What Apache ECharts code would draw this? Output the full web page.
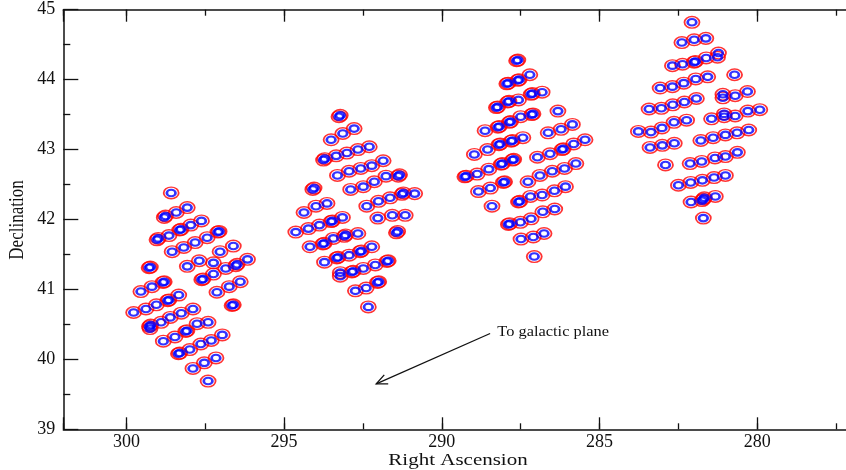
<!DOCTYPE html>
<html>
<head>
<meta charset="utf-8">
<script src="https://cdn.jsdelivr.net/npm/echarts@6/dist/echarts.min.js"></script>
<style>
  html, body { margin: 0; padding: 0; background: #fff; }
  #chart { width: 846px; height: 470px; }
</style>
</head>
<body>
<div id="chart"></div>
<script>
// Pointing centres [RA, Dec] in degrees, one list per survey field.
// Repeated pointings appear as near-duplicate entries.
const field1 = [
  [298.58,42.38],
  [298.80,42.03],[298.76,42.05],
  [298.42,42.10],
  [298.07,42.17],
  [299.03,41.71],[298.99,41.73],
  [298.65,41.77],
  [298.31,41.85],[298.27,41.86],
  [297.96,41.92],
  [297.62,41.98],
  [298.55,41.54],
  [298.18,41.60],
  [297.82,41.67],
  [297.44,41.74],
  [297.10,41.82],[297.06,41.83],
  [298.07,41.33],
  [297.69,41.41],
  [297.24,41.38],
  [297.03,41.54],
  [296.61,41.62],
  [296.85,41.30],
  [296.53,41.34],[296.49,41.36],
  [296.16,41.43],
  [297.61,41.14],[297.57,41.15],
  [297.24,41.22],
  [297.13,40.96],
  [296.74,41.04],
  [296.39,41.11],
  [296.65,40.77],[296.61,40.78],
  [299.28,41.31],[299.24,41.32],
  [299.54,40.97],
  [299.19,41.04],
  [298.84,41.10],[298.80,41.11],
  [299.77,40.67],
  [299.38,40.72],
  [299.05,40.78],
  [298.69,40.84],[298.65,40.85],
  [298.34,40.92],
  [299.27,40.47],[299.23,40.49],[299.25,40.44],
  [298.90,40.53],
  [298.61,40.60],
  [298.26,40.66],
  [297.89,40.72],
  [298.83,40.26],
  [298.46,40.32],
  [298.12,40.40],[298.08,40.41],
  [297.76,40.51],
  [297.41,40.53],
  [298.35,40.08],[298.31,40.09],
  [297.99,40.14],
  [297.64,40.22],
  [297.31,40.27],
  [296.96,40.35],
  [297.89,39.87],
  [297.53,39.95],
  [297.16,40.02],
  [297.41,39.69]
];

const field2 = [
  [293.26,43.47],[293.22,43.49],
  [293.14,43.23],
  [292.78,43.30],
  [293.51,43.14],
  [293.75,42.85],[293.71,42.87],
  [293.35,42.91],
  [293.01,42.95],
  [292.66,43.00],
  [292.30,43.04],
  [293.31,42.63],
  [292.94,42.69],
  [292.57,42.73],
  [292.22,42.77],
  [291.86,42.84],
  [292.89,42.43],
  [292.49,42.47],
  [292.14,42.54],
  [291.77,42.62],
  [291.38,42.62],[291.34,42.64],
  [292.38,42.19],
  [292.01,42.26],
  [291.64,42.31],
  [291.26,42.36],[291.22,42.38],
  [290.86,42.37],
  [292.03,42.02],
  [291.57,42.06],
  [291.16,42.06],
  [291.44,41.81],[291.40,41.83],
  [294.09,42.43],[294.05,42.45],
  [294.37,42.10],
  [293.99,42.19],
  [293.64,42.23],
  [294.63,41.82],
  [294.23,41.87],
  [293.88,41.92],
  [293.51,41.97],[293.47,41.98],
  [293.15,42.03],
  [294.18,41.61],
  [293.77,41.65],[293.73,41.66],
  [293.44,41.73],
  [293.09,41.76],[293.05,41.78],
  [292.66,41.80],
  [293.72,41.39],
  [293.33,41.45],[293.29,41.46],
  [292.94,41.49],
  [292.59,41.54],[292.55,41.55],
  [292.22,41.61],
  [293.22,41.19],[293.22,41.24],
  [292.85,41.25],[292.81,41.26],
  [292.49,41.30],
  [292.11,41.35],
  [291.74,41.40],[291.70,41.41],
  [292.74,40.98],
  [292.40,41.02],
  [292.04,41.10],[292.00,41.11],
  [292.33,40.75]
];

const field3 = [
  [287.63,44.27],[287.59,44.28],
  [287.94,43.94],[287.90,43.95],
  [287.59,43.99],[287.55,44.00],
  [287.21,44.07],
  [288.27,43.60],[288.23,43.61],
  [287.91,43.68],[287.87,43.69],
  [287.57,43.71],
  [287.17,43.79],[287.13,43.80],
  [286.82,43.82],
  [288.63,43.27],
  [288.22,43.32],[288.18,43.33],
  [287.86,43.39],[287.82,43.40],
  [287.50,43.47],
  [287.15,43.50],[287.11,43.51],
  [288.97,42.93],
  [288.55,43.00],
  [288.19,43.07],[288.15,43.08],
  [287.80,43.12],[287.76,43.13],
  [287.43,43.17],
  [289.27,42.61],[289.23,42.62],
  [288.88,42.65],
  [288.51,42.72],
  [288.12,42.79],[288.08,42.80],
  [287.76,42.85],[287.72,42.86],
  [288.84,42.40],
  [288.46,42.45],
  [288.05,42.53],[288.01,42.54],
  [288.41,42.19],
  [286.32,43.55],
  [286.63,43.24],
  [286.22,43.29],
  [285.86,43.36],
  [286.97,42.89],
  [286.57,42.94],
  [286.19,43.00],[286.15,43.01],
  [285.82,43.08],
  [285.46,43.14],
  [287.27,42.54],
  [286.89,42.63],
  [286.50,42.69],
  [286.11,42.73],
  [285.75,42.80],
  [287.57,42.25],[287.53,42.26],
  [287.19,42.33],
  [286.82,42.35],
  [286.43,42.41],
  [286.08,42.47],
  [287.89,41.93],[287.85,41.94],
  [287.51,41.96],
  [287.17,42.01],
  [286.80,42.11],
  [286.42,42.15],
  [287.49,41.72],
  [287.10,41.75],
  [286.76,41.80],
  [287.07,41.47]
];

const field4 = [
  [282.07,44.82],
  [282.39,44.53],
  [282.00,44.57],
  [281.63,44.59],
  [282.69,44.20],
  [282.37,44.22],
  [282.00,44.25],[281.96,44.26],
  [281.62,44.31],
  [281.23,44.38],[281.26,44.32],
  [283.08,43.88],
  [282.69,43.90],
  [282.33,43.95],
  [281.95,44.01],
  [281.57,44.04],
  [280.72,44.07],
  [283.43,43.58],
  [283.04,43.59],
  [282.68,43.64],
  [282.31,43.68],
  [281.93,43.73],
  [281.09,43.74],[281.09,43.79],
  [280.70,43.77],
  [280.31,43.83],
  [283.77,43.26],
  [283.37,43.25],
  [283.02,43.31],
  [282.64,43.39],
  [282.24,43.42],
  [281.45,43.44],
  [281.05,43.47],[281.05,43.51],
  [280.70,43.48],
  [280.30,43.55],
  [279.92,43.57],
  [283.40,43.03],
  [283.01,43.06],
  [282.63,43.09],
  [281.79,43.13],
  [281.40,43.17],
  [281.01,43.21],
  [280.64,43.24],
  [280.27,43.28],
  [282.91,42.78],
  [282.13,42.80],
  [281.76,42.83],
  [281.34,42.88],
  [281.01,42.90],
  [280.63,42.96],
  [282.50,42.49],
  [282.11,42.53],
  [281.74,42.56],
  [281.37,42.60],
  [281.01,42.63],
  [282.10,42.25],
  [281.71,42.29],[281.75,42.27],[281.68,42.31],
  [281.33,42.33],
  [281.71,42.02]
];

// Axis ranges and tick spacing (degrees)
const raRange = [275, 302];
const decRange = [39, 45];
const raMajor = 5;
const raMinor = 2.5;
const decMajor = 1;

// Annotation: arrow pointing toward the galactic plane, in [RA, Dec]
const arrowFrom = [288.47, 40.37];
const arrowTo = [292.08, 39.65];
const arrowLabelAt = [288.24, 40.38];
const arrowLabel = 'To galactic plane';

const xTitle = 'Right Ascension';
const yTitle = 'Declination';

const pointings = field1.concat(field2, field3, field4);

const INK = '#111';
const SERIF = '"Liberation Serif", "Times New Roman", serif';

const chart = echarts.init(document.getElementById('chart'), null, { renderer: 'canvas' });

function raAxis(position, interval, tickLen, showLine, showLabel) {
  return {
    type: 'value',
    position: position,
    min: raRange[0],
    max: raRange[1],
    interval: interval,
    inverse: true,
    axisLine: { show: showLine, onZero: false, lineStyle: { color: INK, width: 1.5 } },
    axisTick: { show: true, inside: true, length: tickLen, lineStyle: { color: INK, width: 1.3 } },
    axisLabel: {
      show: showLabel,
      margin: 4,
      fontFamily: SERIF,
      fontSize: 18,
      color: INK,
      formatter: function (v) { return v % raMajor === 0 ? String(v) : ''; }
    },
    splitLine: { show: false }
  };
}

chart.setOption({
  animation: false,
  backgroundColor: '#fff',
  grid: {
    left: 63.3,
    top: 9.7,
    right: -69,
    bottom: 40.7,
    containLabel: false,
    outerBoundsMode: 'none'
  },
  xAxis: [
    raAxis('bottom', raMajor, 12, true, true),
    raAxis('bottom', raMinor, 6, false, false),
    raAxis('top', raMajor, 12, true, false),
    raAxis('top', raMinor, 6, false, false)
  ],
  yAxis: {
    type: 'value',
    position: 'left',
    min: decRange[0],
    max: decRange[1],
    interval: decMajor,
    axisLine: { show: true, onZero: false, lineStyle: { color: INK, width: 1.5 } },
    axisTick: { show: true, inside: true, length: 15, lineStyle: { color: INK, width: 1.3 } },
    minorTick: { show: true, splitNumber: 2, length: 7, lineStyle: { color: INK, width: 1.3 } },
    axisLabel: { margin: 8, fontFamily: SERIF, fontSize: 18, color: INK },
    splitLine: { show: false },
    minorSplitLine: { show: false }
  },
  series: [
    {
      name: 'outer',
      type: 'scatter',
      xAxisIndex: 0,
      yAxisIndex: 0,
      data: pointings,
      symbol: 'circle',
      symbolSize: [15, 11.6],
      itemStyle: { color: 'rgba(0,0,0,0)', borderColor: '#ff0000', borderWidth: 1.6 },
      emphasis: { disabled: true },
      silent: true,
      z: 2
    },
    {
      name: 'inner',
      type: 'scatter',
      xAxisIndex: 0,
      yAxisIndex: 0,
      data: pointings,
      symbol: 'circle',
      symbolSize: [8.6, 6.5],
      itemStyle: { color: 'rgba(0,0,0,0)', borderColor: '#0000ff', borderWidth: 2.4 },
      emphasis: { disabled: true },
      silent: true,
      z: 3
    }
  ]
});

// Axis titles and the annotation arrow, placed from the axis scales
const toPx = function (p) {
  return chart.convertToPixel({ xAxisIndex: 0, yAxisIndex: 0 }, p);
};
const a0 = toPx(arrowFrom);
const a1 = toPx(arrowTo);
const lbl = toPx(arrowLabelAt);
const dx = a0[0] - a1[0], dy = a0[1] - a1[1];
const len = Math.sqrt(dx * dx + dy * dy);
const ux = dx / len, uy = dy / len;
const headLen = 12, headAng = 0.42;
function rot(x, y, a) {
  return [x * Math.cos(a) - y * Math.sin(a), x * Math.sin(a) + y * Math.cos(a)];
}
const h1 = rot(ux, uy, headAng), h2 = rot(ux, uy, -headAng);

chart.setOption({
  graphic: [
    {
      type: 'line',
      shape: { x1: a0[0], y1: a0[1], x2: a1[0], y2: a1[1] },
      style: { stroke: INK, lineWidth: 1.3 },
      silent: true
    },
    {
      type: 'polyline',
      shape: { points: [
        [a1[0] + h1[0] * headLen, a1[1] + h1[1] * headLen],
        [a1[0], a1[1]],
        [a1[0] + h2[0] * headLen, a1[1] + h2[1] * headLen]
      ] },
      style: { stroke: INK, lineWidth: 1.3, fill: null },
      silent: true
    },
    {
      type: 'text',
      x: lbl[0],
      y: lbl[1],
      scaleX: 1.17,
      style: {
        text: arrowLabel,
        fontFamily: SERIF,
        fontSize: 14,
        fill: INK,
        align: 'left',
        verticalAlign: 'middle'
      },
      silent: true
    },
    {
      type: 'text',
      x: 458,
      y: 460,
      scaleX: 1.2,
      style: {
        text: xTitle,
        fontFamily: SERIF,
        fontSize: 17.5,
        fill: INK,
        align: 'center',
        verticalAlign: 'middle'
      },
      silent: true
    },
    {
      type: 'text',
      x: 18,
      y: 220,
      rotation: Math.PI / 2,
      scaleY: 1.2,
      style: {
        text: yTitle,
        fontFamily: SERIF,
        fontSize: 17,
        fill: INK,
        align: 'center',
        verticalAlign: 'middle'
      },
      silent: true
    }
  ]
});
</script>
</body>
</html>
